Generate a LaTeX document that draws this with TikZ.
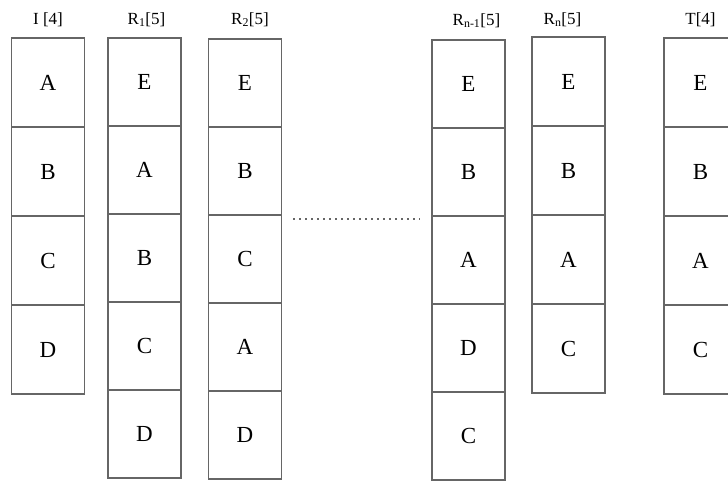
\documentclass[tikz,border=0pt]{standalone}
\usepackage{fontspec}
\setmainfont{Liberation Serif}
\usepackage{tikz}
\usetikzlibrary{positioning}

\begin{document}
\begin{tikzpicture}[x=1pt, y=-1pt,
		cell/.style={draw=black!60, line width=1.3pt, outer sep=0pt, minimum width=73pt, minimum height=#1, inner sep=0pt, font=\fontsize{23}{25}\selectfont},
		cell/.default=88pt,
		lbl/.style={font=\fontsize{17}{19}\selectfont, inner sep=1pt}]
		\useasboundingbox (0,0) rectangle (728,483);

		% input list
		\node[cell=89pt, anchor=north] (i1) at (48,38) {A};
		\node[cell=89pt, below=0pt of i1] (i2) {B};
		\node[cell=89pt, below=0pt of i2] (i3) {C};
		\node[cell=89pt, below=0pt of i3] (i4) {D};
		\node[lbl, above=10pt of i1] (li) {I [4]};

		% first round
		\node[cell, anchor=north] (a1) at (144.5,38) {E};
		\node[cell, below=0pt of a1] (a2) {A};
		\node[cell, below=0pt of a2] (a3) {B};
		\node[cell, below=0pt of a3] (a4) {C};
		\node[cell, below=0pt of a4] (a5) {D};
		\node[lbl, above=10pt of a1, xshift=2pt] (la) {R\textsubscript{1}[5]};

		% second round
		\node[cell, anchor=north] (b1) at (245,39) {E};
		\node[cell, below=0pt of b1] (b2) {B};
		\node[cell, below=0pt of b2] (b3) {C};
		\node[cell, below=0pt of b3] (b4) {A};
		\node[cell, below=0pt of b4] (b5) {D};
		\node[lbl, above=11pt of b1, xshift=5pt] (lb) {R\textsubscript{2}[5]};

		\coordinate (gapL) at (293,219);
		\coordinate (gapR) at (420,219);
		\draw[black!60, line width=1.6pt, dash pattern=on 1.6pt off 4.4pt] (gapL) -- (gapR);

		% round n-1
		\node[cell, anchor=north] (c1) at (468.5,40) {E};
		\node[cell, below=0pt of c1] (c2) {B};
		\node[cell, below=0pt of c2] (c3) {A};
		\node[cell, below=0pt of c3] (c4) {D};
		\node[cell, below=0pt of c4] (c5) {C};
		\node[lbl, above=11pt of c1, xshift=8pt] (lc) {R\textsubscript{n-1}[5]};

		% round n
		\node[cell=89pt, anchor=north] (d1) at (568.5,37) {E};
		\node[cell=89pt, below=0pt of d1] (d2) {B};
		\node[cell=89pt, below=0pt of d2] (d3) {A};
		\node[cell=89pt, below=0pt of d3] (d4) {C};
		\node[lbl, above=9pt of d1, xshift=-6pt] (ld) {R\textsubscript{n}[5]};

		% target list
		\node[cell=89pt, anchor=north] (t1) at (700.5,38) {E};
		\node[cell=89pt, below=0pt of t1] (t2) {B};
		\node[cell=89pt, below=0pt of t2] (t3) {A};
		\node[cell=89pt, below=0pt of t3] (t4) {C};
		\node[lbl, above=10pt of t1] (lt) {T[4]};
	\end{tikzpicture}
\end{document}
